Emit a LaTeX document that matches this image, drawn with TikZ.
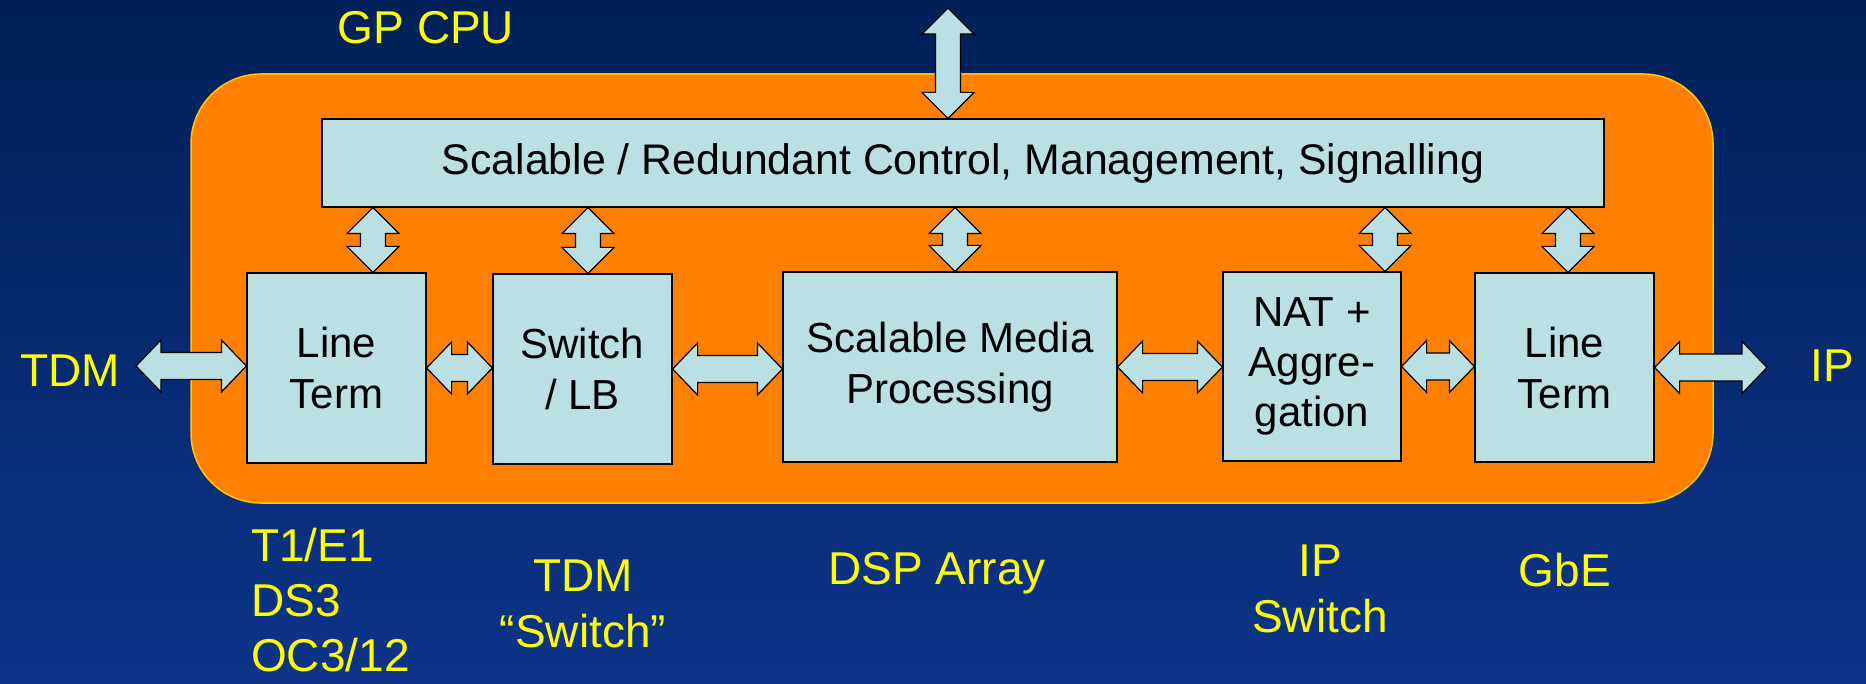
\documentclass[tikz,border=0pt]{standalone}
\usepackage{fontspec}
\setmainfont{Liberation Sans}
\usetikzlibrary{calc,positioning}

\definecolor{navytop}{RGB}{0,32,88}
\definecolor{navybot}{RGB}{13,52,136}
\definecolor{cardorange}{RGB}{255,128,0}
\definecolor{cardedge}{RGB}{255,200,0}
\definecolor{boxblue}{RGB}{186,224,227}
\definecolor{labelyellow}{RGB}{255,255,0}

% horizontal block arrow, left to right
\newcommand{\harrow}[2]{%
 \draw[blockarrow] let \p1=(#1), \p2=(#2) in
   (\x1,\y1) -- (\x1+25pt,\y1+26pt) -- (\x1+25pt,\y1+13.5pt) -- (\x2-25pt,\y1+13.5pt)
   -- (\x2-25pt,\y1+26pt) -- (\x2,\y1) -- (\x2-25pt,\y1-26pt) -- (\x2-25pt,\y1-13.5pt)
   -- (\x1+25pt,\y1-13.5pt) -- (\x1+25pt,\y1-26pt) -- cycle;}
% vertical block arrow, bottom to top
\newcommand{\varrow}[3][0]{%
 \draw[blockarrow] let \p1=($(#2)+(#1,0)$), \p2=(#3) in
   (\x1,\y1) -- (\x1+26pt,\y1+26pt) -- (\x1+12.5pt,\y1+26pt) -- (\x1+12.5pt,\y2-26pt)
   -- (\x1+26pt,\y2-26pt) -- (\x1,\y2) -- (\x1-26pt,\y2-26pt) -- (\x1-12.5pt,\y2-26pt)
   -- (\x1-12.5pt,\y1+26pt) -- (\x1-26pt,\y1+26pt) -- cycle;}

\begin{document}
\begin{tikzpicture}[x=1pt,y=-1pt,
  every node/.style={inner sep=0pt},
  blockbox/.style={draw=black,fill=boxblue,line width=1.2pt,align=center,
    minimum width=179pt,minimum height=190pt,font=\fontsize{42}{51}\selectfont},
  blockarrow/.style={draw=black,fill=boxblue,line width=1.2pt,line join=miter},
  lbl/.style={text=labelyellow,align=center,font=\fontsize{46}{56}\selectfont}]
\useasboundingbox (0,0) rectangle (1866,684);
\shade[top color=navytop,bottom color=navybot] (0,0) rectangle (1866,684);
% orange card
\draw[fill=cardorange,draw=cardedge,line width=1.5pt,rounded corners=70pt] (191,74) rectangle (1713,503);

\node[blockbox,minimum width=1282pt,minimum height=88pt,font=\fontsize{42.8}{52}\selectfont] (bar) at (963,163) {Scalable / Redundant Control, Management, Signalling};
\node[blockbox] (lt1) at (336.5,368) {Line\\Term};
\node[blockbox] (sw) at (582.5,369) {Switch\\/ LB};
\node[blockbox,minimum width=334pt] (media) at (950,367) {Scalable Media\\Processing};
\node[blockbox,minimum width=178pt,minimum height=189pt,font=\fontsize{42}{50}\selectfont] (nat) at (1312,366.5) {NAT +\\Aggre-\\gation};
\node[blockbox,minimum height=189pt] (lt2) at (1564.5,367.5) {Line\\Term};

\coordinate (cpuend) at (948,8);
\coordinate (tdmend) at (136,366);
\coordinate (ipend) at (1767,366);

% arrows
\varrow[-15]{bar.north}{cpuend}
\varrow[36.5]{lt1.north}{bar.south}
\varrow[5.5]{sw.north}{bar.south}
\varrow[5]{media.north}{bar.south}
\varrow[73]{nat.north}{bar.south}
\varrow[3.5]{lt2.north}{bar.south}
\harrow{tdmend}{lt1.west}
\harrow{lt1.east}{sw.west}
\harrow{sw.east}{media.west}
\harrow{media.east}{nat.west}
\harrow{nat.east}{lt2.west}
\harrow{lt2.east}{ipend}

% yellow labels
\node[lbl,anchor=base] (gpcpu) at (426,44) {GP CPU};
\node[lbl,anchor=base] (tdm) at (70,387) {TDM};
\node[lbl,anchor=base] (ip) at (1832,382) {IP};
\node[lbl,align=left,anchor=west,font=\fontsize{46}{55}\selectfont] (lines) at (251,600) {T1/E1\\DS3\\OC3/12};
\node[lbl] (tdmsw) at (583,604) {TDM\\“Switch”};
\node[lbl,anchor=base] (dsp) at (937,584) {DSP Array};
\node[lbl] (ipsw) at (1320,589) {IP\\Switch};
\node[lbl,anchor=base] (gbe) at (1565,586) {GbE};
\end{tikzpicture}
\end{document}
